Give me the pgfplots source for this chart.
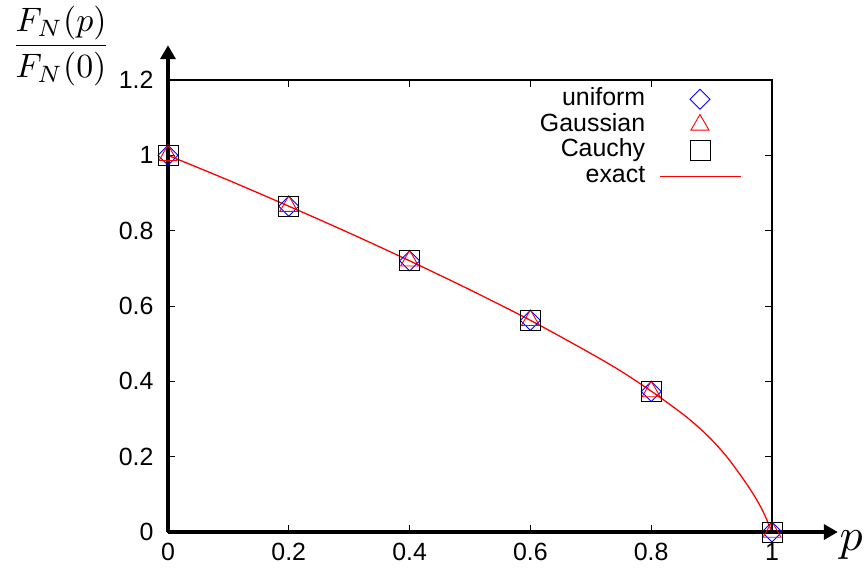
\documentclass[border=0pt]{standalone}
\usepackage[no-math]{fontspec}
\setmainfont{Liberation Sans}
\usepackage{pgfplots}
\pgfplotsset{compat=1.18}
\usetikzlibrary{arrows.meta}

\begin{document}
\begin{tikzpicture}
\begin{axis}[
  scale only axis, width=604bp, height=452bp,
  xmin=0, xmax=1, ymin=0, ymax=1.2,
  xtick={0,0.2,0.4,0.6,0.8,1}, ytick={0,0.2,0.4,0.6,0.8,1,1.2},
  tick align=inside, major tick length=7bp,
  tick style={black, line width=1bp},
  axis line style={black, line width=1.2bp},
  /pgf/number format/assume math mode=true,
  tick label style={font=\fontsize{25}{28}\selectfont},
  xticklabel style={yshift=-10bp, inner ysep=1bp},
  yticklabel style={xshift=-11bp},
  clip=false,
  legend plot pos=right,
  legend cell align=right,
  legend style={draw=none, fill=none, at={(rel axis cs:0.95,0.9864)}, anchor=north east,
    font=\fontsize{25}{28}\selectfont, inner sep=0pt, row sep=0pt, column sep=13bp,
    nodes={text height=18bp, text depth=5.5bp, inner sep=1.1bp}},
  legend image code/.code={\draw[mark repeat=2, mark phase=2, #1]
    plot coordinates {(0bp,0bp) (40bp,0bp) (81bp,0bp)};},
]
% uniform
\addplot[only marks, blue, mark=square, mark size=7.07bp,
  mark options={rotate=45, line width=0.9bp}]
  coordinates {(0,1) (0.2,0.865) (0.4,0.72) (0.6,0.562) (0.8,0.373) (1,0)};
\addlegendentry{uniform}
% Gaussian
\addplot[only marks, red, mark=triangle, mark size=10.4bp,
  mark options={line width=0.9bp}]
  coordinates {(0,1) (0.2,0.865) (0.4,0.72) (0.6,0.562) (0.8,0.373) (1,0)};
\addlegendentry{Gaussian}
% Cauchy
\addplot[only marks, black, mark=square, mark size=10bp,
  mark options={line width=0.9bp}]
  coordinates {(0,1) (0.2,0.865) (0.4,0.72) (0.6,0.562) (0.8,0.373) (1,0)};
\addlegendentry{Cauchy}
% exact
\addplot[red, line width=1.3bp, smooth, no marks]
  coordinates {(0,1) (0.1,0.934) (0.2,0.865) (0.3,0.794) (0.4,0.720) (0.5,0.643)
    (0.6,0.562) (0.7,0.474) (0.75,0.427) (0.8,0.374) (0.85,0.316) (0.875,0.283)
    (0.9,0.245) (0.925,0.200) (0.95,0.146) (0.97,0.098) (0.985,0.055) (1,0)};
\addlegendentry{exact}

\draw[line width=3.5bp, -{Triangle[length=14bp,width=15bp]}]
  (rel axis cs:0,0) -- (rel axis cs:1.109,0);
\draw[line width=3.5bp, -{Triangle[length=14bp,width=15bp]}]
  (rel axis cs:0,0) -- (rel axis cs:0,1.077);
\node[inner sep=0pt, scale=3.4] at (axis description cs:-0.177,1.0754)
  {\fontsize{10}{12}\selectfont$\displaystyle\frac{F_N(p)}{F_N(0)}$};
\node[inner sep=0pt, scale=4.6] at (axis description cs:1.131,-0.029)
  {\fontsize{10}{12}\selectfont$p$};
\coordinate (bl) at (rel axis cs:-0.2781,-0.0819);
\coordinate (tr) at (rel axis cs:1.1523,1.177);
\end{axis}
\pgfresetboundingbox
\path[use as bounding box] (bl) rectangle (tr);
\end{tikzpicture}
\end{document}
